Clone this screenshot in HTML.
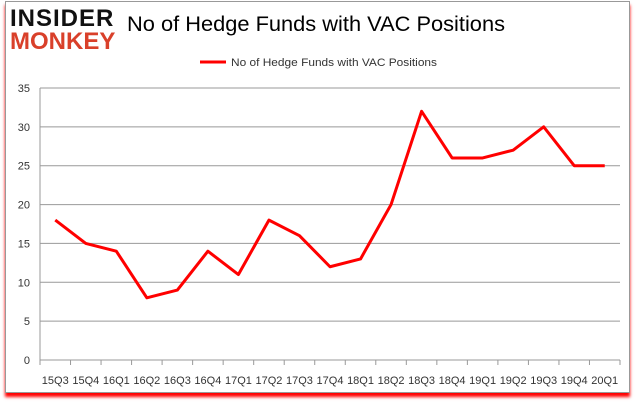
<!DOCTYPE html>
<html><head><meta charset="utf-8"><style>
body{margin:0;width:635px;height:405px;background:#fff;overflow:hidden;font-family:"Liberation Sans",sans-serif}
#frame{position:absolute;left:5px;top:1px;width:623px;height:390px;border:1px solid #999;background:#fff;box-shadow:0 4px 3px #f00}
</style></head><body>
<div id="frame"></div>
<svg width="635" height="405" style="position:absolute;left:0;top:0" id="svg">
<text x="10" y="26" font-size="24" font-weight="bold" fill="#111" font-family="Liberation Sans" letter-spacing="1">INSIDER</text>
<text x="10" y="49" font-size="24" font-weight="bold" fill="#d9402a" font-family="Liberation Sans" letter-spacing="0">MONKEY</text>
<text x="127" y="31" font-size="21" fill="#000" textLength="378" lengthAdjust="spacingAndGlyphs">No of Hedge Funds with VAC Positions</text>
<line x1="200" y1="62" x2="226" y2="62" stroke="#f00" stroke-width="3"/>
<text x="231" y="66" font-size="11" fill="#333" textLength="206" lengthAdjust="spacingAndGlyphs">No of Hedge Funds with VAC Positions</text>
<g id="plot"></g>
</svg>
<script>
const categories=["15Q3","15Q4","16Q1","16Q2","16Q3","16Q4","17Q1","17Q2","17Q3","17Q4","18Q1","18Q2","18Q3","18Q4","19Q1","19Q2","19Q3","19Q4","20Q1"];
const values=[18,15,14,8,9,14,11,18,16,12,13,20,32,26,26,27,30,25,25];
const yTicks=[0,5,10,15,20,25,30,35];
const NS="http://www.w3.org/2000/svg";
const g=document.getElementById('plot');
const x0=40,x1=620,y0=360,yTop=88;
const step=(x1-x0)/categories.length;
const xs=i=>x0+step*(i+0.5);
const ys=v=>y0-(v/35)*(y0-yTop);
function mk(t,a){const e=document.createElementNS(NS,t);for(const k in a)e.setAttribute(k,a[k]);g.appendChild(e);return e;}
yTicks.forEach(v=>{
 const l=mk('line',{x1:x0,x2:x1,y1:ys(v),y2:ys(v),stroke:'#999','stroke-width':1});
 
 
 const t=mk('text',{x:x0-10,y:ys(v)+4,'font-size':11,'text-anchor':'end',fill:'#333'});
 t.textContent=v;
 
 
});
const ax=mk('line',{x1:x0,x2:x0,y1:yTop,y2:y0+4,stroke:'#999'});


for(let i=0;i<=categories.length;i++){
 const tk=mk('line',{x1:x0+step*i,x2:x0+step*i,y1:y0,y2:y0+5,stroke:'#999'});
 
 
}
categories.forEach((c,i)=>{
 const t=mk('text',{x:xs(i),y:384,'font-size':11,'text-anchor':'middle',fill:'#333'});
 t.textContent=c;
 
 
});
const p=mk('polyline',{points:values.map((v,i)=>xs(i)+','+ys(v)).join(' '),fill:'none',stroke:'#f00','stroke-width':3,'stroke-linejoin':'round'});


</script>
</body></html>
